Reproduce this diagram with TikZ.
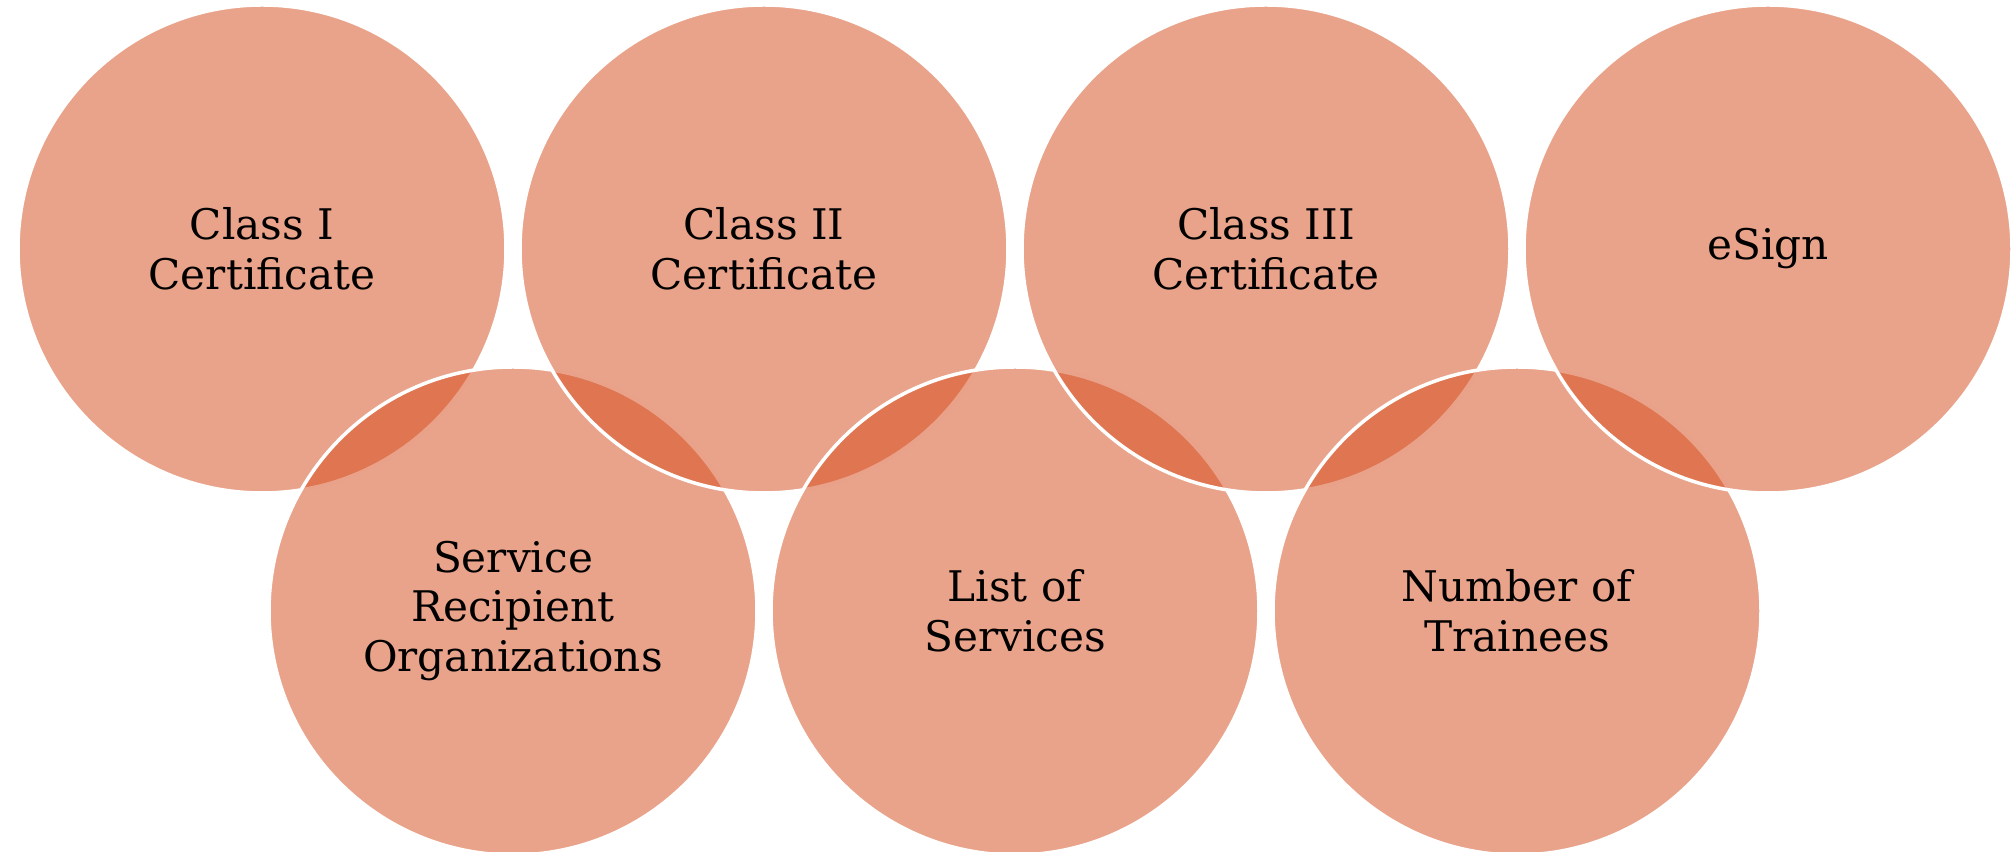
\documentclass[tikz,border=0pt]{standalone}
\usepackage{fontspec}
\setmainfont{DejaVu Serif}
\usepackage{tikz}
\usetikzlibrary{positioning}

\definecolor{ringorange}{RGB}{213,78,30}

\begin{document}
\begin{tikzpicture}[
			every node/.append style={circle, minimum size=4.88cm, inner sep=0pt, outer sep=0pt, align=center}
			,ring/.style={fill=ringorange, fill opacity=.52, text opacity=1, draw=white, draw opacity=1, line width=1pt, font=\fontsize{12}{14.2}\selectfont}
			,node distance=.14cm
		]
			\useasboundingbox (0,0) rectangle (20.11,8.52);
			% top row and bottom row, drawn in turn
			\node [ring] (A) at (2.62,6.03) {Class I\\Certificate};
			\node [ring] (E) at (5.13,2.41) {Service\\Recipient\\Organizations};
			\node [ring, right=of A] (B) {Class II\\Certificate};
			\node [ring, right=of E] (F) {List of\\Services};
			\node [ring, right=of B] (C) {Class III\\Certificate};
			\node [ring, right=of F] (G) {Number of\\Trainees};
			\node [ring, right=of C] (D) {eSign};
		\end{tikzpicture}
\end{document}
